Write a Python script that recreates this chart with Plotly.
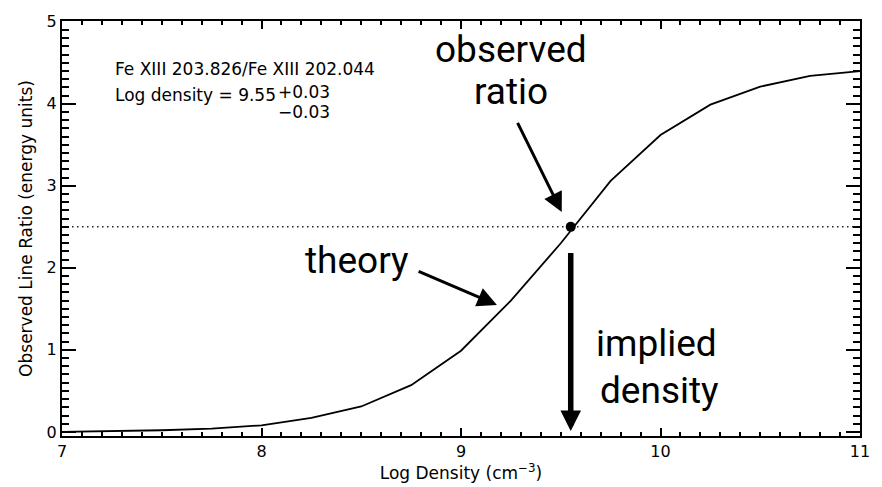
import plotly.graph_objects as go

# ---- data ----
log_density = [7.0, 7.25, 7.5, 7.75, 8.0, 8.25, 8.5, 8.75, 9.0, 9.25, 9.5, 9.75, 10.0, 10.25, 10.5, 10.75, 11.0]
line_ratio = [0.0, 0.01, 0.02, 0.04, 0.08, 0.17, 0.31, 0.57, 0.99, 1.60, 2.30, 3.06, 3.62, 3.99, 4.21, 4.34, 4.40]
observed_ratio = 2.5
implied_log_density = 9.55
err_plus = 0.03
err_minus = 0.03
ratio_label = "Fe XIII 203.826/Fe XIII 202.044"
x_ticks = [7, 8, 9, 10, 11]
y_ticks = [0, 1, 2, 3, 4, 5]

AX_FONT = "DejaVu Sans, Liberation Sans, Arial, sans-serif"
BIG_FONT = dict(family="Roboto, Lato, sans-serif", size=37, color="black")
INFO_FONT = dict(family=AX_FONT, size=17, color="black")
TICK_COLOR = "black"

fig = go.Figure()

# dotted line at observed ratio
fig.add_trace(go.Scatter(
    x=[x_ticks[0], x_ticks[-1]], y=[observed_ratio, observed_ratio],
    mode="lines", line=dict(color="#222", width=1.5, dash="1.5px,3.5px"),
    hoverinfo="skip", showlegend=False))

# theory curve
fig.add_trace(go.Scatter(
    x=log_density, y=line_ratio, mode="lines",
    line=dict(color="black", width=1.8), showlegend=False))

# observed point
fig.add_trace(go.Scatter(
    x=[implied_log_density], y=[observed_ratio], mode="markers",
    marker=dict(color="black", size=10), showlegend=False))

ann = []
# info text
ann.append(dict(x=7.255, y=4.42, xref="x", yref="y", text=ratio_label, showarrow=False,
                xanchor="left", yanchor="middle", font=INFO_FONT))
ann.append(dict(x=7.255, y=4.11, xref="x", yref="y", text=f"Log density = {implied_log_density:.2f}",
                showarrow=False, xanchor="left", yanchor="middle", font=INFO_FONT))
ann.append(dict(x=8.075, y=4.14, xref="x", yref="y", text=f"+{err_plus:.2f}", showarrow=False,
                xanchor="left", yanchor="middle", font=INFO_FONT))
ann.append(dict(x=8.075, y=3.90, xref="x", yref="y", text=f"\u2212{err_minus:.2f}", showarrow=False,
                xanchor="left", yanchor="middle", font=INFO_FONT))

# big labels
ann.append(dict(x=9.25, y=4.665, xref="x", yref="y", text="observed", showarrow=False, font=BIG_FONT))
ann.append(dict(x=9.25, y=4.15, xref="x", yref="y", text="ratio", showarrow=False, font=BIG_FONT))
ann.append(dict(x=8.48, y=2.09, xref="x", yref="y", text="theory", showarrow=False, font=BIG_FONT))
ann.append(dict(x=9.98, y=1.08, xref="x", yref="y", text="implied", showarrow=False, font=BIG_FONT))
ann.append(dict(x=9.995, y=0.51, xref="x", yref="y", text="density", showarrow=False, font=BIG_FONT))

# arrows
ann.append(dict(x=9.505, y=2.68, ax=9.28, ay=3.786, xref="x", yref="y", axref="x", ayref="y",
                text="", showarrow=True, arrowhead=2, arrowwidth=3, arrowsize=1.3, arrowcolor="black"))
ann.append(dict(x=9.18, y=1.548, ax=8.78, ay=1.964, xref="x", yref="y", axref="x", ayref="y",
                text="", showarrow=True, arrowhead=2, arrowwidth=3, arrowsize=1.3, arrowcolor="black"))
ann.append(dict(x=implied_log_density, y=0.01, ax=implied_log_density, ay=2.2, xref="x", yref="y",
                axref="x", ayref="y", text="", showarrow=True, arrowhead=2, arrowwidth=5.5,
                arrowsize=0.75, arrowcolor="black"))

fig.update_layout(
    width=882, height=487,
    margin=dict(l=62, r=20, t=12, b=50),
    plot_bgcolor="white", paper_bgcolor="white",
    annotations=ann,
    font=dict(family=AX_FONT, color="black", size=16),
)
fig.update_xaxes(
    range=[x_ticks[0], x_ticks[-1]], tickmode="linear", tick0=x_ticks[0], dtick=x_ticks[1] - x_ticks[0],
    showline=True, linecolor="black", linewidth=2, mirror="allticks",
    ticks="inside", ticklen=8, tickwidth=2, tickcolor=TICK_COLOR,
    minor=dict(dtick=0.1, ticks="inside", ticklen=4, tickwidth=1.6, tickcolor=TICK_COLOR),
    showgrid=False, zeroline=False, tickfont=dict(family=AX_FONT, size=16, color="black"),
    title=dict(text="Log Density (cm<sup>\u22123</sup>)", font=dict(family=AX_FONT, size=17, color="black"),
               standoff=2),
)
fig.update_yaxes(
    range=[-0.05, 5.01], tickmode="linear", tick0=y_ticks[0], dtick=y_ticks[1] - y_ticks[0],
    showline=True, linecolor="black", linewidth=2, mirror="allticks",
    ticks="inside", ticklen=14, tickwidth=2, tickcolor=TICK_COLOR,
    minor=dict(dtick=0.1, ticks="inside", ticklen=7, tickwidth=1.6, tickcolor=TICK_COLOR),
    showgrid=False, zeroline=False, tickfont=dict(family=AX_FONT, size=16, color="black"),
    title=dict(text="Observed Line Ratio (energy units)", font=dict(family=AX_FONT, size=17, color="black"),
               standoff=10),
)

fig.write_html("out.html")
